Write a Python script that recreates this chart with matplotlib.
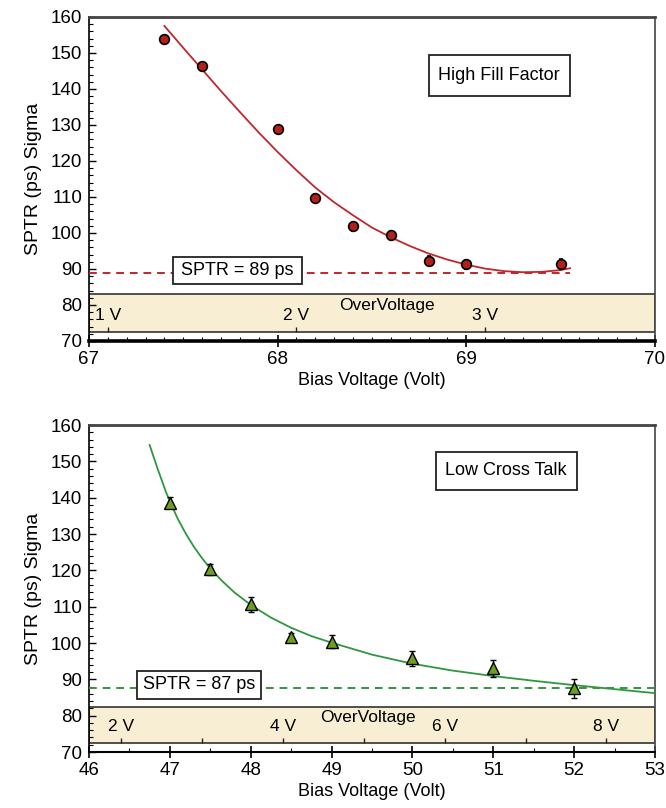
import matplotlib
matplotlib.use("Agg")
import matplotlib.pyplot as plt
from matplotlib.patches import Rectangle
from matplotlib.ticker import MultipleLocator

plt.rcParams['font.family'] = ['Liberation Sans', 'DejaVu Sans']

# --- High Fill Factor (top panel) ---
hff_bias = [67.4, 67.6, 68.0, 68.2, 68.4, 68.6, 68.8, 69.0, 69.5]
hff_sptr = [153.9, 146.3, 128.8, 109.6, 101.8, 99.3, 92.3, 91.3, 91.4]
hff_err = [0.9, 0.9, 1.0, 1.1, 1.2, 1.3, 1.3, 1.3, 1.3]
hff_fit_x = [67.4, 67.5, 67.6, 67.7, 67.8, 67.9, 68.0, 68.1, 68.2, 68.3, 68.4, 68.5,
             68.6, 68.7, 68.8, 68.9, 69.0, 69.1, 69.2, 69.3, 69.4, 69.5, 69.55]
hff_fit_y = [157.5, 151.4, 145.4, 139.4, 133.6, 127.9, 122.5, 117.4, 112.6, 108.5, 104.9, 101.5,
             98.8, 96.4, 94.3, 92.6, 91.2, 90.1, 89.4, 89.1, 89.2, 89.7, 90.2]
hff_best = 89
hff_ov_pos = [67.1, 68.1, 69.1]
hff_ov_lab = ['1 V', '2 V', '3 V']
hff_band = (72.6, 83.1)

# --- Low Cross Talk (bottom panel) ---
lct_bias = [47.0, 47.5, 48.0, 48.5, 49.0, 50.0, 51.0, 52.0]
lct_sptr = [138.6, 120.3, 110.6, 101.6, 100.3, 95.8, 93.0, 87.6]
lct_err = [1.5, 1.5, 2.1, 1.2, 1.8, 2.1, 2.3, 2.6]
lct_fit_x = [46.75, 46.85, 46.95, 47.0, 47.1, 47.2, 47.3, 47.4, 47.5, 47.65, 47.8, 48.0,
             48.25, 48.5, 48.75, 49.0, 49.5, 50.0, 50.5, 51.0, 51.5, 52.0, 52.5, 53.0]
lct_fit_y = [154.5, 147.9, 141.7, 139.0, 134.1, 130.0, 126.4, 123.3, 120.5, 117.0, 113.9, 110.5,
             107.0, 104.2, 101.9, 100.1, 96.8, 94.3, 92.4, 90.9, 89.6, 88.4, 87.3, 86.2]
lct_best = 87.6
lct_ov_pos = [46.4, 47.4, 48.4, 49.4, 50.4, 51.4, 52.4]
lct_ov_lab = ['2 V', '', '4 V', '', '6 V', '', '8 V']
lct_band = (72.5, 82.5)

RED = '#c0272d'
RED_FILL = '#b3201c'
GREEN = '#2e9740'
GREEN_FILL = '#6f9e1e'
BAND = '#f8eed3'

fig = plt.figure(figsize=(6.66, 8.08), dpi=100)
ax1 = fig.add_axes([0.1336, 0.578, 0.8498, 0.401])
ax2 = fig.add_axes([0.1336, 0.0693, 0.8498, 0.4047])


def style_axes(ax, xlim, xminor):
    ax.set_xlim(*xlim)
    ax.set_ylim(70, 160)
    ax.xaxis.set_major_locator(MultipleLocator(1))
    ax.xaxis.set_minor_locator(MultipleLocator(xminor))
    ax.yaxis.set_major_locator(MultipleLocator(10))
    ax.yaxis.set_minor_locator(MultipleLocator(2))
    ax.tick_params(axis='y', which='major', direction='in', length=5, width=1,
                   labelsize=13.5, pad=5)
    ax.tick_params(axis='y', which='minor', direction='in', length=3, width=0.8)
    ax.tick_params(axis='x', which='major', direction='inout', length=8, width=1.2,
                   labelsize=13.5, pad=3)
    ax.tick_params(axis='x', which='minor', direction='in', length=3, width=0.8)
    ax.set_xlabel('Bias Voltage (Volt)', fontsize=13, labelpad=3)
    ax.set_ylabel('SPTR (ps) Sigma', fontsize=14, labelpad=6)
    ax.spines['left'].set_linewidth(1.2)
    ax.spines['right'].set_color('#444444')
    ax.spines['right'].set_linewidth(1.2)
    ax.spines['top'].set_color('#444444')
    ax.spines['top'].set_linewidth(2)


def overvoltage(ax, band, pos, labels, xlim, ov_x, ov_y, lab_y):
    ax.add_patch(Rectangle((xlim[0], band[0]), xlim[1] - xlim[0], band[1] - band[0],
                           facecolor=BAND, edgecolor='#222222', lw=1.1, zorder=1))
    ax.vlines(pos, band[0], band[0] + 1.4, color='#222222', lw=1, zorder=2)
    for p, lab in zip(pos, labels):
        if lab:
            ax.text(p, lab_y, lab, ha='center', va='center', fontsize=12.5, zorder=3)
    ax.text(ov_x, ov_y, 'OverVoltage', ha='center', va='center', fontsize=12.5, zorder=3)


def label_box(ax, x0, x1, y0, y1, text):
    ax.add_patch(Rectangle((x0, y0), x1 - x0, y1 - y0, facecolor='white',
                           edgecolor='#222222', lw=1.3, zorder=4))
    ax.text((x0 + x1) / 2, (y0 + y1) / 2, text, ha='center', va='center',
            fontsize=13, zorder=5)


# top panel
style_axes(ax1, (67, 70), 0.1)
ax1.spines['bottom'].set_linewidth(2.6)
overvoltage(ax1, hff_band, hff_ov_pos, hff_ov_lab, (67, 70), 68.58, 79.8, 77.2)
ax1.plot([67, 69.55], [hff_best, hff_best], color=RED, lw=1.4, ls=(0, (4, 3)), zorder=3)
label_box(ax1, 67.443, 68.127, 85.7, 93.4, 'SPTR = 89 ps')
ax1.plot(hff_fit_x, hff_fit_y, color=RED, lw=1.3, zorder=6)
ax1.errorbar(hff_bias, hff_sptr, yerr=hff_err, fmt='o', ms=7, mfc=RED_FILL, mec='black',
             mew=1.2, ecolor='black', elinewidth=1.2, capsize=1.5, capthick=1, zorder=7)
label_box(ax1, 68.80, 69.55, 138.1, 149.3, 'High Fill Factor')

# bottom panel
style_axes(ax2, (46, 53), 0.5)
ax2.spines['bottom'].set_linewidth(1.5)
overvoltage(ax2, lct_band, lct_ov_pos, lct_ov_lab, (46, 53), 49.45, 79.4, 77.0)
ax2.axhline(lct_best, color=GREEN, lw=1.4, ls=(0, (4, 3)), zorder=3)
label_box(ax2, 46.60, 48.13, 84.5, 92.4, 'SPTR = 87 ps')
ax2.plot(lct_fit_x, lct_fit_y, color=GREEN, lw=1.3, zorder=6)
ax2.errorbar(lct_bias, lct_sptr, yerr=lct_err, fmt='^', ms=8, mfc=GREEN_FILL, mec='black',
             mew=1.0, ecolor='black', elinewidth=1.0, capsize=2.5, capthick=1, zorder=7)
label_box(ax2, 50.29, 52.03, 142.0, 152.7, 'Low Cross Talk')

fig.savefig('out.png', dpi=100)
